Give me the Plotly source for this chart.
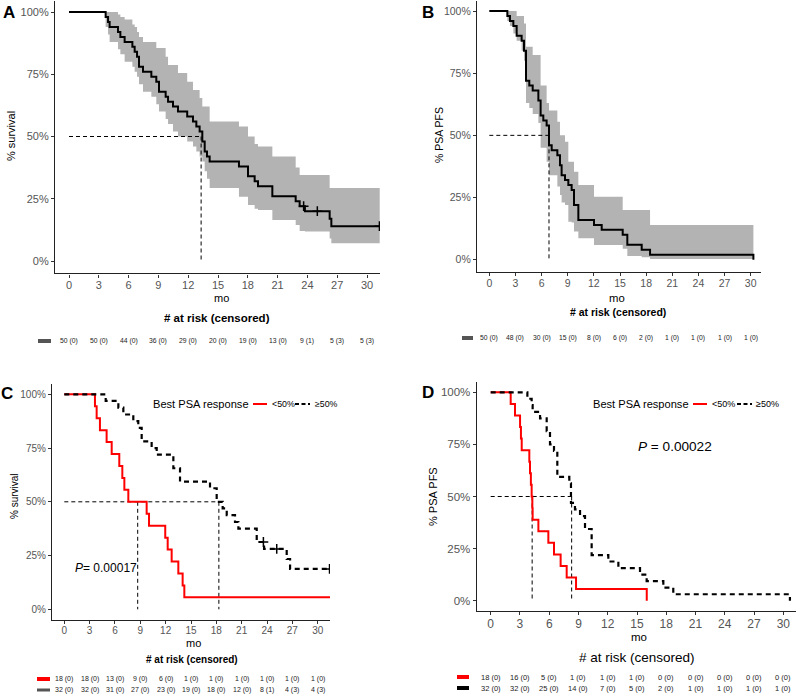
import plotly.graph_objects as go

# ---------------- data ----------------
ticks_mo = [0, 3, 6, 9, 12, 15, 18, 21, 24, 27, 30]
y_ticks = [0, 25, 50, 75, 100]
y_ticktext = ["0%", "25%", "50%", "75%", "100%"]

# Panel A: overall survival (n=50)
A_time = [0, 3.69, 3.93, 4.09, 4.93, 5.17, 5.60, 6.38, 6.61, 6.85, 7.05, 7.45, 8.29, 8.79, 9.06, 9.73, 9.97,
          10.47, 10.97, 11.9, 12.48, 12.82, 13.15, 13.42, 13.66, 13.89, 14.16, 17.11, 18.02, 18.69, 19.03,
          20.47, 22.82, 23.22, 23.75, 26.24, 26.41, 31.28]
A_surv = [100, 98, 96, 94, 92, 90, 88, 86, 84, 82, 78, 76, 74, 72, 68, 66, 64, 62, 60, 58, 56, 54, 52, 48,
          44, 42, 40, 38, 34, 32, 30, 26, 24, 22, 20, 17, 14, 14]
A_upper = [100, 100, 100, 100, 99, 98, 97, 95, 94, 92, 90, 88, 88, 85.5, 85.5, 82, 78.7, 78.7, 75.5, 72,
           68.7, 68.7, 65.5, 62, 62, 62, 56, 54, 50, 47, 46, 42, 37.5, 34.5, 34.5, 29.3, 29.3, 29.3]
A_lower = [100, 94, 91, 88, 85, 83, 80, 78, 76, 74, 71, 68, 66, 63, 60, 57, 55, 52, 50, 48, 46, 44, 42, 40,
           36, 33, 29.3, 25.8, 22.5, 21, 20.5, 16.5, 14.5, 12, 11.8, 9, 7.1, 7.1]
A_cens_time = [23.62, 25.0, 31.25]
A_cens_surv = [22, 20, 14]
A_median = 13.3
A_risk = ["50 (0)", "50 (0)", "44 (0)", "36 (0)", "29 (0)", "20 (0)", "19 (0)", "13 (0)", "9 (1)", "5 (3)", "5 (3)"]

# Panel B: PSA PFS (n=50)
B_time = [0, 2.07, 2.37, 2.76, 3.14, 3.71, 3.98, 4.21, 4.59, 4.98, 5.63, 5.89, 6.20, 6.58, 6.85, 7.16, 7.81,
          8.11, 8.30, 8.69, 9.07, 9.45, 9.72, 10.22, 12.02, 12.90, 15.31, 15.84, 17.49, 18.45, 30.31]
B_surv = [100, 98, 96, 94, 90, 88, 84, 72, 70, 68, 64, 58, 56, 54, 46, 44, 42, 38, 34, 32, 30, 28, 22, 16,
          14, 12, 10, 6, 4, 2, 0]
B_upper = [100, 100, 100, 100, 98, 98, 95, 85.6, 85.6, 82.3, 82.3, 70, 70, 63, 60, 60, 55.5, 50, 50, 47.4,
           39.4, 39.4, 35.4, 30, 25.3, 25.3, 20, 20, 20, 14, 14]
B_lower = [100, 96, 94, 91, 88, 84, 80, 63, 61, 58.6, 55, 45, 45, 39.4, 34, 34, 29.4, 26, 23, 22, 15.3, 15,
           11.3, 8.6, 5.9, 5.9, 4.4, 1.5, 1, 0.3, 0.3]
B_median = 6.85
B_risk = ["50 (0)", "48 (0)", "30 (0)", "15 (0)", "8 (0)", "6 (0)", "2 (0)", "1 (0)", "1 (0)", "1 (0)", "1 (0)"]

# Panel C: survival by best PSA response
C_lt_time = [0, 3.63, 3.83, 4.22, 5.01, 5.61, 6.51, 6.87, 7.11, 7.58, 9.75, 10.03, 11.95, 12.24, 12.71,
             13.50, 14.01, 14.21, 31.66]
C_lt_surv = [100, 94.4, 88.9, 83.3, 77.8, 72.2, 66.7, 61.1, 55.6, 50, 44.4, 38.9, 33.3, 27.8, 22.2, 16.7,
             11.1, 5.6, 5.6]
C_ge_time = [0, 4.9, 6.40, 6.99, 8.17, 8.76, 9.16, 10.34, 10.94, 12.91, 13.70, 17.25, 18.04, 18.75, 19.23,
             20.21, 20.61, 22.78, 23.65, 26.33, 26.73, 31.46]
C_ge_surv = [100, 96.9, 93.8, 90.6, 87.5, 84.4, 78.1, 75.0, 71.9, 65.6, 59.4, 56.3, 50.0, 46.9, 43.8, 40.6,
             37.5, 31.3, 28.1, 23.4, 18.8, 18.8]
C_cens_time = [23.57, 25.15, 31.4]
C_cens_surv = [31.3, 28.1, 18.8]
C_medians = [8.69, 18.3]
C_risk_lt = ["18 (0)", "18 (0)", "13 (0)", "9 (0)", "6 (0)", "1 (0)", "1 (0)", "1 (0)", "1 (0)", "1 (0)", "1 (0)"]
C_risk_ge = ["32 (0)", "32 (0)", "31 (0)", "27 (0)", "23 (0)", "19 (0)", "18 (0)", "12 (0)", "8 (1)", "4 (3)", "4 (3)"]
C_pvalue = "0.00017"

# Panel D: PSA PFS by best PSA response
D_lt_time = [0, 2.05, 2.49, 3.01, 3.10, 3.18, 3.96, 4.03, 4.12, 4.20, 4.27, 4.30, 4.89, 5.91, 6.49, 7.17,
             7.79, 8.75, 16.0]
D_lt_surv = [100, 94.4, 88.9, 83.3, 77.8, 72.2, 66.7, 61.1, 55.6, 50.0, 44.4, 38.9, 33.3, 27.8, 22.2, 16.7,
             11.1, 5.6, 0]
D_ge_time = [0, 3.76, 4.20, 4.30, 5.06, 5.74, 6.08, 6.49, 6.83, 8.06, 8.23, 8.64, 9.16, 9.67, 10.35, 12.06,
             13.09, 15.31, 15.99, 17.70, 18.72, 30.68]
D_ge_surv = [100, 96.9, 93.8, 90.6, 87.5, 81.3, 75.0, 71.9, 59.4, 56.3, 46.9, 43.8, 40.6, 34.4, 21.9, 18.8,
             15.6, 12.5, 9.4, 6.3, 3.1, 0]
D_medians = [4.25, 8.3]
D_risk_lt = ["18 (0)", "16 (0)", "5 (0)", "1 (0)", "1 (0)", "1 (0)", "0 (0)", "0 (0)", "0 (0)", "0 (0)", "0 (0)"]
D_risk_ge = ["32 (0)", "32 (0)", "25 (0)", "14 (0)", "7 (0)", "5 (0)", "2 (0)", "1 (0)", "1 (0)", "1 (0)", "1 (0)"]
D_pvalue = "0.00022"

# ---------------- layout helpers ----------------
W, H = 797, 696
FONT = "Liberation Sans, Arial, sans-serif"
RED = "#ff0000"
BAND = "rgb(179,179,179)"
TICKGREY = "#555555"


def fx(px):
    return min(max(px / W, 0.0), 1.0)


def fy(py):
    return min(max(1 - py / H, 0.0), 1.0)


# pixel calibration of each panel: axis left/right, position of t=0 and t=30, of 100% and 0%
PANELS = {
    "A": dict(left=55, right=380, x0=69, x30=367, y100=12, y0=261, tick=11, ytick=11),
    "B": dict(left=477, right=761, x0=489.3, x30=750.7, y100=11, y0=259.7, tick=10.5, ytick=10.5),
    "C": dict(left=52, right=330, x0=64.3, x30=317.7, y100=394.3, y0=609.3, tick=10, ytick=10),
    "D": dict(left=476.7, right=796, x0=490.7, x30=783.3, y100=392.3, y0=600.7, tick=12, ytick=11.5),
}

fig = go.Figure()
layout = dict(width=W, height=H, margin=dict(l=0, r=0, t=0, b=0), autosize=False,
              paper_bgcolor="white", plot_bgcolor="white", showlegend=False)

for i, key in enumerate(["A", "B", "C", "D"]):
    p = PANELS[key]
    pxm = (p["x30"] - p["x0"]) / 30.0
    pyp = (p["y0"] - p["y100"]) / 100.0
    xr = [(p["left"] - p["x0"]) / pxm, (p["right"] - p["x0"]) / pxm]
    top = max(p["y100"] - 5 * pyp, 0.5)
    bottom = p["y0"] + 5 * pyp
    yr = [(p["y0"] - bottom) / pyp, (p["y0"] - top) / pyp]
    sfx = "" if i == 0 else str(i + 1)
    layout["xaxis" + sfx] = dict(
        domain=[fx(p["left"]), fx(p["right"])], range=xr, anchor="y" + sfx,
        tickmode="array", tickvals=ticks_mo, ticktext=[str(t) for t in ticks_mo],
        showline=True, linecolor="#222222", linewidth=1.2, ticks="outside", ticklen=3,
        tickcolor="#333333", tickwidth=1, showgrid=False, zeroline=False, ticklabelstandoff=-2,
        tickfont=dict(family=FONT, size=p["tick"], color=TICKGREY), fixedrange=True)
    layout["yaxis" + sfx] = dict(
        domain=[fy(bottom), fy(top)], range=yr, anchor="x" + sfx,
        tickmode="array", tickvals=y_ticks, ticktext=y_ticktext,
        showline=True, linecolor="#222222", linewidth=1.2, ticks="outside", ticklen=3,
        tickcolor="#333333", tickwidth=1, showgrid=False, zeroline=False,
        tickfont=dict(family=FONT, size=p["ytick"], color=TICKGREY), fixedrange=True)

fig.update_layout(**layout)


def band(time, upper, lower, xa, ya):
    fig.add_trace(go.Scatter(x=time, y=upper, mode="lines", line=dict(width=0, shape="hv"),
                             xaxis=xa, yaxis=ya, hoverinfo="skip"))
    fig.add_trace(go.Scatter(x=time, y=lower, mode="lines", line=dict(width=0, shape="hv"),
                             fill="tonexty", fillcolor=BAND, xaxis=xa, yaxis=ya, hoverinfo="skip"))


def medians(meds, xa, ya):
    dash = dict(color="black", width=1, dash="4px,3px")
    fig.add_trace(go.Scatter(x=[0, max(meds)], y=[50, 50], mode="lines", line=dash, xaxis=xa, yaxis=ya))
    for m in meds:
        fig.add_trace(go.Scatter(x=[m, m], y=[50, 0], mode="lines", line=dash, xaxis=xa, yaxis=ya))


def curve(time, surv, xa, ya, color="black", width=2, dash=None):
    fig.add_trace(go.Scatter(x=time, y=surv, mode="lines",
                             line=dict(color=color, width=width, shape="hv", dash=dash),
                             xaxis=xa, yaxis=ya))


def censor(time, surv, xa, ya):
    fig.add_trace(go.Scatter(x=time, y=surv, mode="markers",
                             marker=dict(symbol="cross-thin", size=7, line=dict(color="black", width=1.5)),
                             xaxis=xa, yaxis=ya))


# Panel A
band(A_time, A_upper, A_lower, "x", "y")
medians([A_median], "x", "y")
curve(A_time, A_surv, "x", "y")
censor(A_cens_time, A_cens_surv, "x", "y")

# Panel B
band(B_time, B_upper, B_lower, "x2", "y2")
medians([B_median], "x2", "y2")
curve(B_time, B_surv, "x2", "y2")

# Panel C
medians(C_medians, "x3", "y3")
curve(C_lt_time, C_lt_surv, "x3", "y3", color=RED, width=2)
curve(C_ge_time, C_ge_surv, "x3", "y3", color="black", width=2.2, dash="5px,4px")
censor(C_cens_time, C_cens_surv, "x3", "y3")

# Panel D
medians(D_medians, "x4", "y4")
curve(D_lt_time, D_lt_surv, "x4", "y4", color=RED, width=2)
curve(D_ge_time, D_ge_surv, "x4", "y4", color="black", width=2.2, dash="5px,4px")

# ---------------- annotations ----------------
ann = []


def text(t, px, py, size, color="black", bold=False, xanchor="center", angle=0):
    ann.append(dict(text=("<b>%s</b>" % t) if bold else t, x=fx(px), y=fy(py), xref="paper", yref="paper",
                    showarrow=False, font=dict(family=FONT, size=size, color=color),
                    xanchor=xanchor, yanchor="middle", textangle=angle))


def risk_row(values, xref, py, size=7):
    for t, v in zip(ticks_mo, values):
        ann.append(dict(text=v, x=t, y=fy(py), xref=xref, yref="paper", showarrow=False,
                        font=dict(family=FONT, size=size, color="#222222"), xanchor="center", yanchor="middle"))


# panel letters
text("A", 9, 13, 17, bold=True)
text("B", 428, 12, 17, bold=True)
text("C", 7, 393, 17, bold=True)
text("D", 428, 392, 17, bold=True)

# axis titles
text("% survival", 11, 136, 11, angle=-90)
text("% PSA PFS", 439, 135, 10.5, angle=-90)
text("% survival", 14, 496, 10, angle=-90)
text("% PSA PFS", 433, 497, 11, angle=-90)

text("mo", 221, 298, 11)
text("mo", 617, 298, 11.3)
text("mo", 193, 643, 11)
text("mo", 639, 637, 11.5)

text("# at risk (censored)", 217, 318, 11.5, bold=True)
text("# at risk (censored)", 618, 312, 10.5, bold=True)
text("# at risk (censored)", 192, 659, 10, bold=True)
text("# at risk (censored)", 637, 657, 13.5)

# risk tables
risk_row(A_risk, "x", 341, 6.8)
risk_row(B_risk, "x2", 338, 6.8)
risk_row(C_risk_lt, "x3", 679, 7)
risk_row(C_risk_ge, "x3", 690, 7)
risk_row(D_risk_lt, "x4", 677, 7.5)
risk_row(D_risk_ge, "x4", 688, 7.5)

# legends
text("Best PSA response", 151, 404, 11.1, xanchor="left")
text("&lt;50%", 270, 404, 8.8, xanchor="left")
text("≥50%", 313, 404, 8.8, xanchor="left")
text("Best PSA response", 591, 404, 11.1, xanchor="left")
text("&lt;50%", 710, 404, 9, xanchor="left")
text("≥50%", 754, 404, 9, xanchor="left")

# p-values
text("<i>P</i>= " + C_pvalue, 73, 568, 12, xanchor="left")
text("<i>P</i> = " + D_pvalue, 636, 446, 13.6, xanchor="left")

shapes = []


def rect(x0, x1, y0, y1, color):
    shapes.append(dict(type="rect", xref="paper", yref="paper", x0=fx(x0), x1=fx(x1), y0=fy(y1), y1=fy(y0),
                       fillcolor=color, line=dict(width=0)))


def seg(x0, x1, py, color, dash=None, width=2):
    shapes.append(dict(type="line", xref="paper", yref="paper", x0=fx(x0), x1=fx(x1), y0=fy(py), y1=fy(py),
                       line=dict(color=color, width=width, dash=dash)))


rect(38, 51, 339, 343, "#555555")
rect(462, 473, 336, 340, "#555555")
rect(37, 50, 677, 681, RED)
rect(37, 50, 688.5, 691.5, "#555555")
rect(457, 469, 675, 679, RED)
rect(457, 469, 686, 690, "black")

seg(253, 267, 404, RED)
seg(295, 310, 404, "black", dash="4px,2.5px", width=2.2)
seg(693, 707, 404, RED)
seg(737, 752, 404, "black", dash="4px,2.5px", width=2.2)

fig.update_layout(annotations=ann, shapes=shapes)
fig.write_html("out.html", config={"displayModeBar": False},
               post_script="document.body.style.margin='0';document.body.style.padding='0';"
                           "document.body.style.overflow='hidden';")
